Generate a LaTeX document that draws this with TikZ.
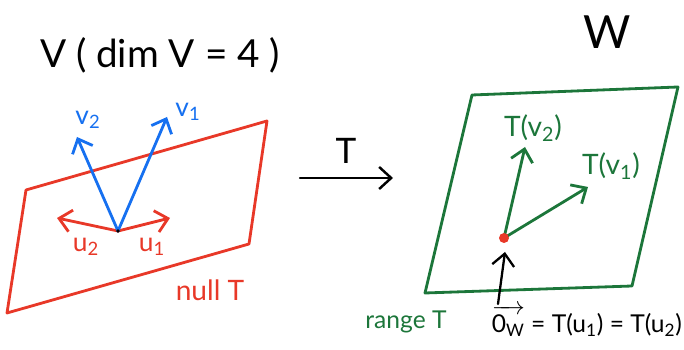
\documentclass[tikz,border=0pt]{standalone}
\usepackage{fontspec}
\setmainfont{Lato}
\usepackage{amsmath}
\usetikzlibrary{arrows.meta, calc, positioning}
\definecolor{nullred}{RGB}{232,56,40}
\definecolor{vecblue}{RGB}{22,112,240}
\definecolor{rangegreen}{RGB}{28,118,58}

\begin{document}
\begin{tikzpicture}[
    x=0.02cm, y=-0.02cm,
    >={Straight Barb[length=2.4mm,width=4.4mm]},
    stroke/.style={line width=1.6pt, line cap=round, line join=round},
    lbl/.style={inner sep=1pt, font=\fontsize{15}{18}\selectfont},
    big/.style={inner sep=1pt, font=\fontsize{22}{26}\selectfont},
]
\useasboundingbox (0,0) rectangle (684,350);
% domain V and the plane null T
\node[big] (titleV) at (160,55) {V ( dim V = 4 )};
\draw[stroke, nullred] (26,190) -- (267,121) -- (249,244) -- (7,313) -- cycle;
\coordinate (o) at (118,231);
\coordinate (u1) at (170,218);
\coordinate (u2) at (57,218);
\coordinate (v1) at (167,117);
\coordinate (v2) at (77,137);
\draw[stroke, nullred, ->] (o) -- (u1);
\draw[stroke, nullred, ->] (o) -- (u2);
\draw[stroke, vecblue, ->] (o) -- (v1);
\draw[stroke, vecblue, ->] (o) -- (v2);
\fill (o) circle (1.8);
\node[lbl, nullred] (labu1) at (152,247) {u\textsubscript{1}};
\node[lbl, nullred] (labu2) at (86,247) {u\textsubscript{2}};
\node[lbl, vecblue] (labv1) at (188,112) {v\textsubscript{1}};
\node[lbl, vecblue] (labv2) at (88,120) {v\textsubscript{2}};
\node[lbl, nullred, font=\fontsize{16}{19}\selectfont] (labnull) at (210,290) {null T};
% the map T
\coordinate (mapA) at (300,178);
\coordinate (mapB) at (393,178);
\draw[stroke, ->, line width=1.4pt] (mapA) -- (mapB);
\node[lbl, font=\fontsize{20}{24}\selectfont] (labT) at (346,151) {T};
% codomain W and the plane range T
\node[big, font=\fontsize{26}{30}\selectfont] (titleW) at (607,32) {W};
\draw[stroke, rangegreen] (472,95) -- (678,87) -- (632,286) -- (425,293) -- cycle;
\coordinate (ow) at (504,238);
\coordinate (tv1) at (588,187);
\coordinate (tv2) at (525,147);
\draw[stroke, rangegreen, ->] (ow) -- (tv1);
\draw[stroke, rangegreen, ->] (ow) -- (tv2);
\fill[nullred] (ow) circle (5);
\node[lbl, rangegreen, font=\fontsize{16}{19}\selectfont] (labtv1) at (611,166) {T(v\textsubscript{1})};
\node[lbl, rangegreen, font=\fontsize{16}{19}\selectfont] (labtv2) at (533,128) {T(v\textsubscript{2})};
\node[lbl, rangegreen, font=\fontsize{14}{17}\selectfont] (labrange) at (406,322) {range T};
\node[lbl, font=\fontsize{14}{17}\selectfont] (labzero) at (587,321)
   {$\overrightarrow{\text{0\textsubscript{W}}}$ = T(u\textsubscript{1}) = T(u\textsubscript{2})};
\coordinate (zb) at (498,304);
\draw[stroke, ->, line width=1.3pt] (zb) -- ($(ow)+(1,14)$);
\end{tikzpicture}
\end{document}
